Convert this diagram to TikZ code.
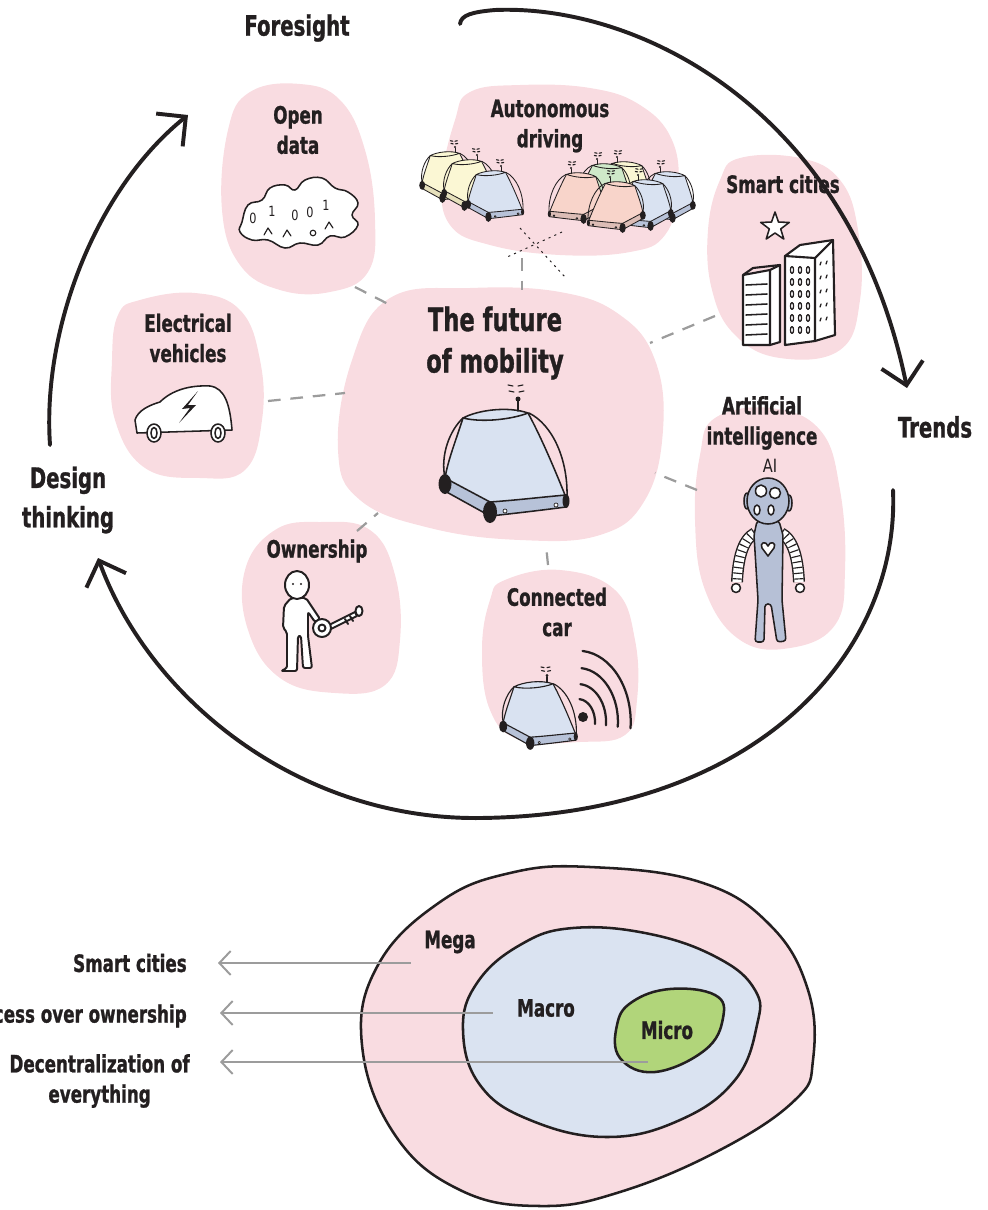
\documentclass[tikz,border=0pt]{standalone}
\usepackage{fontspec}
\usetikzlibrary{arrows.meta}
\newfontfamily\hand{DejaVu Sans Bold}[FakeStretch=0.7, FakeBold=1]
\newfontfamily\scribble{DejaVu Sans}[FakeStretch=0.8]

\definecolor{ink}{HTML}{231F20}
\definecolor{blobpink}{HTML}{F9DCE1}
\definecolor{macroblue}{HTML}{DAE3F1}
\definecolor{microgreen}{HTML}{B1D57A}
\definecolor{podblue}{HTML}{D9E2F1}
\definecolor{podbase}{HTML}{B7C2D8}
\definecolor{podyellow}{HTML}{FBF7D4}
\definecolor{baseyellow}{HTML}{E6E0BC}
\definecolor{podgreen}{HTML}{CFE8C9}
\definecolor{basegreen}{HTML}{AFCBA9}
\definecolor{podsalmon}{HTML}{F8D4CA}
\definecolor{basesalmon}{HTML}{DCBDB6}
\definecolor{robotgrey}{HTML}{B6C0D6}
\definecolor{linkgrey}{HTML}{9C9C9C}

\tikzset{
    % Text
    title/.style={font=\hand\fontsize{17}{21.5}\selectfont, text=ink, align=center, inner sep=0pt},
    big title/.style={title, font=\hand\fontsize{23}{29.5}\selectfont},
    stage/.style={title, font=\hand\fontsize{20}{28}\selectfont},
    %
    % Shapes and lines
    blob/.style={fill=blobpink},
    ink line/.style={draw=ink, line width=1.1pt, line join=round, line cap=round},
    ring/.style={ink line, line width=1.8pt},
    link/.style={draw=linkgrey, line width=1.6pt, dash pattern=on 9pt off 7pt},
    road/.style={draw=ink, line width=0.7pt, dash pattern=on 1.5pt off 3pt},
    cycle arrow/.style={draw=ink, line width=2.8pt, line cap=round,
        -{Straight Barb[length=15pt, width=30pt, line width=2.8pt]}},
    trend arrow/.style={draw=linkgrey, line width=1.4pt,
        {Straight Barb[length=8pt, width=17pt, line width=1.4pt]}-},
    %
    % Little driverless pod, #1 body and #2 base colour
    pics/pod/.style 2 args={code={
        \path[fill=#1] (-55,8) .. controls (-62,30) and (-70,50) .. (-73,68) -- (-28,92)
            .. controls (0,90) and (25,87) .. (47,85) .. controls (35,55) and (22,25) .. (10,3)
            .. controls (-10,-4) and (-40,0) .. cycle;
        \path[fill=#2, ink line] (-73,68) -- (-28,92) .. controls (0,90) and (25,87) .. (48,85)
            -- (48,97) .. controls (25,100) and (0,103) .. (-28,106) -- (-75,80) -- cycle;
        \draw[ink line] (-55,8) .. controls (-62,30) and (-70,50) .. (-73,68);
        \draw[ink line] (10,3) .. controls (22,25) and (35,55) .. (47,85);
        \draw[ink line] (-55,8) .. controls (-40,0) and (-10,-4) .. (10,3)
            .. controls (-5,9) and (-35,13) .. cycle;
        \draw[ink line] (-55,8) .. controls (-68,20) and (-78,45) .. (-73,68);
        \draw[ink line] (11,3) .. controls (35,15) and (50,50) .. (49,87);
        \fill[ink] (-73,74) ellipse [x radius=6.5, y radius=10];
        \fill[ink] (-28,102) ellipse [x radius=7, y radius=11];
        \fill[ink] (48,91) ellipse [x radius=3.5, y radius=7];
        \draw[ink line, line width=0.5pt, fill=white] (-13,101) circle [radius=2];
        \draw[ink line, line width=0.5pt, fill=white] (38,95) circle [radius=2];
        \draw[ink line] (0,1) -- (0,-9);
        \fill[ink] (0,-11) circle [radius=2.5];
        \draw[ink line, line width=0.8pt] (-9,-19) -- (-4,-18) (1,-18) -- (6,-19)
            (-10,-25) -- (-5,-24) (0,-24) -- (5,-25);
    }},
    small pod/.style={scale=0.45, ink line/.append style={line width=0.6pt}}
}

\begin{document}
\begin{tikzpicture}[x=0.025cm, y=-0.025cm]
    \useasboundingbox (0,0) rectangle (987,1210);
    \clip (0,0) rectangle (987,1210);

    % pink clouds behind every topic
    \fill[blob] plot[smooth cycle, tension=0.7] coordinates {(250,92) (300,84) (340,100) (365,150) (375,220) (368,272) (330,292) (280,290) (240,265) (222,210) (228,130)};
    \fill[blob] plot[smooth cycle, tension=0.7] coordinates {(470,92) (520,85) (590,88) (640,105) (672,140) (678,190) (665,235) (630,252) (560,255) (490,245) (450,225) (442,180) (455,120)};
    \fill[blob] plot[smooth cycle, tension=0.7] coordinates {(740,158) (800,158) (840,180) (858,230) (860,300) (840,350) (780,358) (735,335) (712,290) (708,230) (720,180)};
    \fill[blob] plot[smooth cycle, tension=0.7] coordinates {(140,300) (195,293) (240,310) (260,360) (262,420) (245,470) (200,478) (145,468) (115,420) (112,360) (118,315)};
    \fill[blob] plot[smooth cycle, tension=0.7] coordinates {(390,298) (470,288) (560,292) (620,315) (655,360) (663,430) (645,500) (600,535) (520,540) (430,528) (360,500) (338,450) (352,360)};
    \fill[blob] plot[smooth cycle, tension=0.7] coordinates {(715,418) (770,408) (820,430) (840,490) (845,570) (835,625) (790,648) (740,640) (705,590) (695,520) (700,455)};
    \fill[blob] plot[smooth cycle, tension=0.7] coordinates {(275,530) (320,522) (370,530) (395,575) (400,640) (385,685) (335,693) (280,678) (248,630) (245,570)};
    \fill[blob] plot[smooth cycle, tension=0.7] coordinates {(505,580) (560,570) (615,590) (635,640) (637,700) (625,735) (580,742) (520,740) (490,710) (482,650) (490,600)};

    % dashed links to the centre
    \coordinate (odA) at (355,287);  \coordinate (odB) at (392,306);
    \coordinate (adA) at (522,258);  \coordinate (adB) at (522,290);
    \coordinate (scA) at (715,316);  \coordinate (scB) at (650,343);
    \coordinate (evA) at (268,401);  \coordinate (evB) at (345,393);
    \coordinate (aiA) at (697,490);  \coordinate (aiB) at (655,473);
    \coordinate (owA) at (357,531);  \coordinate (owB) at (378,513);
    \coordinate (ccA) at (548,565);  \coordinate (ccB) at (546,545);
    \foreach \a/\b in {odA/odB, adA/adB, scA/scB, evA/evB, aiA/aiB, owA/owB, ccA/ccB}
        \draw[link] (\a) -- (\b);

    % the big cycle
    \coordinate (fsStart) at (460,24);
    \coordinate (trEnd) at (907,388);
    \coordinate (trStart) at (893,490);
    \coordinate (dtEnd) at (98,558);
    \coordinate (dtStart) at (50,445);
    \coordinate (fsEnd) at (188,115);
    \draw[cycle arrow] (fsStart) .. controls (461,15) and (472,12) .. (495,10)
        .. controls (640,4) and (850,110) .. (trEnd);
    \draw[cycle arrow] (trStart) .. controls (900,650) and (760,815) .. (480,818)
        .. controls (300,820) and (150,700) .. (dtEnd);
    \draw[cycle arrow] (dtStart) .. controls (42,330) and (95,190) .. (fsEnd);

    \node[stage] (foresight) at (297,28) {Foresight};
    \node[stage] (trends) at (935,427) {Trends};
    \node[stage] (design) at (68,500) {Design\\thinking};

    % topic titles
    \node[big title] (future) at (495,343) {The future\\of mobility};
    \node[title] (openData) at (298,130) {Open\\data};
    \node[title] (autoDriving) at (550,126) {Autonomous\\driving};
    \node[title] (smartCities) at (783,184) {Smart cities};
    \node[title] (electric) at (188,338) {Electrical\\vehicles};
    \node[title] (artificial) at (762,423) {Artificial\\intelligence};
    \node[title] (ownership) at (317,551) {Ownership};
    \node[title] (connected) at (557,612) {Connected\\car};

    % centre pod
    \pic at (518,410) {pod={podblue}{podbase}};

    % autonomous driving: two queues of pods and the crossing
    \draw[road] (520,228) -- (565,277);
    \draw[road] (562,232) -- (505,258);
    \pic[small pod] at (455,152) {pod={podyellow}{baseyellow}};
    \pic[small pod] at (477,160) {pod={podyellow}{baseyellow}};
    \pic[small pod] at (501,171) {pod={podblue}{podbase}};
    \pic[small pod, xscale=-1] at (617,162) {pod={podyellow}{baseyellow}};
    \pic[small pod, xscale=-1] at (660,172) {pod={podblue}{podbase}};
    \pic[small pod, xscale=-1] at (597,164) {pod={podgreen}{basegreen}};
    \pic[small pod, xscale=-1] at (638,180) {pod={podblue}{podbase}};
    \pic[small pod, xscale=-1] at (571,173) {pod={podsalmon}{basesalmon}};
    \pic[small pod, xscale=-1] at (610,182) {pod={podsalmon}{basesalmon}};

    % connected car and its signal
    \pic[scale=0.6, ink line/.append style={line width=0.8pt}] at (547,682) {pod={podblue}{podbase}};
    \fill[ink] (583,717) circle [radius=5];
    \foreach \r in {20,33,47,62}
        \draw[ink line, line width=1.6pt] (578,722) ++(-85:{0.85*\r} and {1.15*\r})
            arc [start angle=-85, end angle=5, x radius=0.85*\r, y radius=1.15*\r];

    % open data cloud
    \draw[ink line, fill=white] plot[smooth cycle, tension=0.75] coordinates {(242,222) (248,205) (262,200) (270,188) (285,185) (295,190) (305,180) (322,178) (335,188) (348,192) (358,203) (352,215) (358,225) (345,237) (330,236) (318,245) (300,243) (285,248) (268,240) (252,240) (240,232)};
    \foreach \x/\y/\d in {253/218/0, 272/211/1, 295/215/0, 310/212/0, 326/205/1}
        \node[font=\scribble\fontsize{10}{10}\selectfont, text=ink, inner sep=0pt] (bit\x) at (\x,\y) {\d};
    \draw[ink line, line width=0.8pt] (264,235) -- (268,228) -- (272,234)
        (283,237) -- (287,230) -- (291,236) (325,229) -- (329,222) -- (333,228);
    \draw[ink line, line width=0.8pt] (313,233) circle [radius=2.8];

    % smart city: star and towers
    \draw[ink line, fill=white] (775,212) -- (778.5,222.1) -- (789.3,222.4) -- (780.7,228.9)
        -- (783.8,239.1) -- (775,233) -- (766.2,239.1) -- (769.3,228.9) -- (760.7,222.4)
        -- (771.5,222.1) -- cycle;
    \draw[ink line, line width=1.5pt, fill=white] (743,275) -- (770,270) -- (780,265) -- (780,342)
        -- (770,345) -- (743,345) -- cycle;
    \draw[ink line, line width=1.5pt] (770,270) -- (770,345) (743,275) -- (753,268) -- (780,265);
    \foreach \y in {285,295,...,335}
        \draw[ink line] (746,\y) -- (767,\y-1);
    \draw[ink line, line width=1.5pt, fill=white] (785,256) -- (800,245) -- (833,240) -- (835,335)
        -- (815,341) -- (785,345) -- cycle;
    \draw[ink line, line width=1.5pt] (785,256) -- (815,258) -- (833,240) (815,258) -- (815,341);
    \foreach \x in {792,800,808}
        \foreach \y in {270,282,...,330}
            \draw[ink line, line width=0.9pt] (\x,\y) ellipse [x radius=1.6, y radius=3.5];
    \foreach \y in {262,276,...,330}
        \draw[ink line, line width=0.9pt] (820,\y+3) -- (821,\y) (826,\y+2) -- (827,\y-1);

    % electric car
    \draw[ink line, fill=white] (137,433) -- (135,420) .. controls (138,410) and (150,405) .. (160,402)
        .. controls (172,390) and (190,385) .. (210,386) .. controls (225,388) and (230,405) .. (232,430) -- cycle;
    \foreach \x in {154,218} {
        \draw[ink line, fill=white] (\x,433) ellipse [x radius=7, y radius=9];
        \draw[ink line] (\x,433) ellipse [x radius=3, y radius=5.5];
    }
    \fill[ink] (198,391) -- (182,409) -- (190,408) -- (179,423) -- (196,405) -- (188,405) -- cycle;

    % owner holding a key
    \draw[ink line, line width=1.4pt, fill=white, rounded corners=1.5pt] (291,598) -- (284,606) -- (283,628)
        -- (287,632) -- (287,668) -- (281,671) -- (297,671) -- (298,636) -- (301,636) -- (303,668)
        -- (312,668) -- (308,636) -- (308,612) -- (315,622) -- (320,619) -- (306,598) -- cycle;
    \draw[ink line, line width=1.4pt, fill=white] (297,585) ellipse [x radius=12, y radius=14];
    \fill[ink] (293,584) circle [radius=1.2] (301,584) circle [radius=1.2];
    \draw[ink line, line width=1.4pt, fill=white] (329,625) -- (355,612) -- (357,616) -- (331,629) -- cycle;
    \draw[ink line, line width=1.4pt, fill=white] (359,611) ellipse [x radius=3.5, y radius=5];
    \draw[ink line, line width=1.4pt] (345,619) -- (348,624) (350,616) -- (353,621);
    \draw[ink line, line width=1.4pt, fill=white] (322,628) circle [radius=9];
    \draw[ink line, line width=1.4pt] (322,628) circle [radius=3.5];

    % robot: striped arms, body, head
    \node[font=\scribble\fontsize{13}{13}\selectfont, text=ink, inner sep=0pt] (aiMark) at (770,466) {AI};
    \foreach \sx in {1,-1} {
        \begin{scope}[shift={(768,0)}, xscale=\sx]
            \draw[ink, line width=8.5pt] (-13,533) .. controls (-26,540) and (-30,560) .. (-31,582);
            \draw[white, line width=6.5pt] (-13,533) .. controls (-26,540) and (-30,560) .. (-31,582);
            \draw[ink, line width=6.5pt, dash pattern=on 0.8pt off 3.2pt] (-13,533) .. controls (-26,540) and (-30,560) .. (-31,582);
            \draw[ink line, fill=white] (-32,588) circle [radius=4.5];
        \end{scope}
    }
    \draw[ink line, fill=robotgrey, rounded corners=2pt] (757,521) -- (779,521) -- (783,535) -- (782,600)
        -- (786,641) -- (777,642) -- (771,604) -- (765,604) -- (764,642) -- (755,642) -- (758,600)
        -- (754,535) -- cycle;
    \draw[ink line, fill=white] (768,556) -- (762,548) .. controls (759,543) and (766,540) .. (768,546)
        .. controls (770,540) and (777,543) .. (774,548) -- cycle;
    \draw[ink line, fill=robotgrey] (747,501) ellipse [x radius=3, y radius=8];
    \draw[ink line, fill=robotgrey] (789,503) ellipse [x radius=3, y radius=8];
    \draw[ink line, fill=robotgrey] (768,501) ellipse [x radius=21, y radius=23];
    \draw[ink line, fill=white] (761,491) ellipse [x radius=5.5, y radius=6];
    \draw[ink line, fill=white] (775,493) ellipse [x radius=5.5, y radius=5.5];
    \draw[ink line, fill=white] (757,510) ellipse [x radius=3, y radius=5];
    \draw[ink line, fill=white] (771,510) ellipse [x radius=3, y radius=5];

    % mega, macro and micro trends
    \filldraw[fill=blobpink, ring] plot[smooth cycle, tension=0.7] coordinates {(590,867) (700,882) (770,925) (808,990) (813,1060) (795,1100) (720,1150) (620,1192) (540,1206) (460,1190) (395,1135) (362,1045) (378,965) (440,902) (510,873)};
    \filldraw[fill=macroblue, ring] plot[smooth cycle, tension=0.7] coordinates {(573,928) (650,934) (718,958) (755,990) (757,1025) (735,1080) (680,1120) (607,1137) (530,1120) (480,1085) (463,1030) (477,983) (520,945)};
    \filldraw[fill=microgreen, ring] plot[smooth cycle, tension=0.7] coordinates {(670,989) (715,995) (723,1018) (705,1050) (655,1072) (620,1058) (617,1025) (632,1002)};
    \node[title] (mega) at (450,942) {Mega};
    \node[title] (macro) at (546,1008) {Macro};
    \node[title] (micro) at (667,1030) {Micro};

    \node[title, anchor=east] (lblSmart) at (187,963) {Smart cities};
    \node[title, anchor=east] (lblAccess) at (187,1016) {Access over ownership};
    \node[title, anchor=east] (lblDecentral) at (190,1081) {Decentralization of\\everything};

    \coordinate (tipMega) at (218,963);   \coordinate (inMega) at (411,963);
    \coordinate (tipMacro) at (220,1013); \coordinate (inMacro) at (493,1013);
    \coordinate (tipMicro) at (220,1062); \coordinate (inMicro) at (648,1062);
    \foreach \t/\e in {tipMega/inMega, tipMacro/inMacro, tipMicro/inMicro}
        \draw[trend arrow] (\t) -- (\e);
\end{tikzpicture}
\end{document}
